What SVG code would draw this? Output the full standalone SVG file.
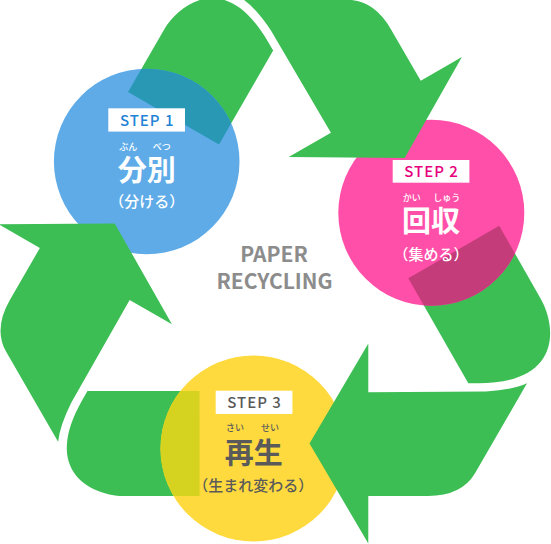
<svg xmlns="http://www.w3.org/2000/svg" xmlns:xlink="http://www.w3.org/1999/xlink" width="551" height="544" viewBox="0 0 551 544">
<style>
.g{fill:#3cbe54}
.t{font-family:"Noto Sans CJK JP",sans-serif;font-weight:700;text-anchor:middle}
.step{font-size:15px;letter-spacing:1px;font-weight:500}
.ruby{font-size:9px;font-weight:500}
.main{font-size:29px}
.sub{font-size:15px;font-weight:500}
.w{fill:#fff}
.box{fill:#fff}
.center{font-family:"Noto Sans CJK JP",sans-serif;font-weight:700;font-size:21px;fill:#8c8c8c;text-anchor:middle}
</style>
<defs>
<path id="head" d="M309.5,443.5 L368.3,343.5 L368.3,392.3 L486,391.5 Q512,390 527,383.3 L475,473.3 Q461.6,496 428,496 L368.3,496 L368.3,543.5 Z"/>
<path id="tailB" d="M408.3,278.3 L499.2,225.8 L541.4,300 C556,327 562,383.3 478,383.3 L468.3,383.3 Z"/>
<path id="tailC" d="M412.25,286.2 L503.15,233.7 L541.4,300 C556,327 562,383.3 478,383.3 L468.3,383.3 Z"/>
<path id="tailA" d="M414.15,289.5 L505.05,237 L541.4,300 C556,327 562,383.3 478,383.3 L468.3,383.3 Z"/>
<clipPath id="c1"><circle cx="146.7" cy="161.5" r="92.8"/></clipPath>
<clipPath id="c2"><circle cx="431.3" cy="212.8" r="93"/></clipPath>
<clipPath id="c3"><circle cx="253.5" cy="448.5" r="93"/></clipPath>
</defs>

<g id="connectors-back" class="g">
<use xlink:href="#tailA" transform="translate(175.35,647.8) rotate(240)"/>
<use xlink:href="#tailB"/>
<use xlink:href="#tailC" transform="translate(653.55,177.1) rotate(120)"/>
</g>

<g id="step1">
<circle cx="146.7" cy="161.5" r="92.8" fill="#5eabe8"/>
<g clip-path="url(#c1)"><use xlink:href="#tailA" transform="translate(175.35,647.8) rotate(240)" fill="#2898b4"/></g>
<rect class="box" x="108.3" y="108.3" width="76.7" height="23.3"/>
<text class="t step" x="147.2" y="125.5" fill="#2283d6">STEP 1</text>
<text class="t ruby w" x="128.3" y="149.5">ぶん</text>
<text class="t ruby w" x="161.7" y="149.5">べつ</text>
<text class="t main w" x="146.7" y="181">分別</text>
<text class="t sub w" x="146.7" y="207">（分ける）</text>
</g>

<g id="step2">
<circle cx="431.3" cy="212.8" r="93" fill="#ff4fa9"/>
<g clip-path="url(#c2)"><use xlink:href="#tailB" fill="#c43c79"/></g>
<rect class="box" x="392.7" y="160" width="76.7" height="22.7"/>
<text class="t step" x="431.5" y="177" fill="#e6007e">STEP 2</text>
<text class="t ruby w" x="411.7" y="201">かい</text>
<text class="t ruby w" x="446.7" y="201">しゅう</text>
<text class="t main w" x="431" y="232">回収</text>
<text class="t sub w" x="431" y="260">（集める）</text>
</g>

<g id="step3">
<circle cx="253.5" cy="448.5" r="93" fill="#ffda3e"/>
<g clip-path="url(#c3)"><use xlink:href="#tailC" transform="translate(653.55,177.1) rotate(120)" fill="#d6d220"/></g>
<rect class="box" x="215.7" y="390.7" width="76.7" height="23.3"/>
<text class="t step" x="254.5" y="407.5" fill="#595959">STEP 3</text>
<text class="t ruby" x="235" y="431" fill="#5a5a5a">さい</text>
<text class="t ruby" x="270" y="431" fill="#5a5a5a">せい</text>
<text class="t main" x="253.7" y="464" fill="#5a5a5a">再生</text>
<text class="t sub" x="253.3" y="491" fill="#5a5a5a">（生まれ変わる）</text>
</g>

<g id="connectors-front" class="g">
<use xlink:href="#head" transform="translate(175.35,647.8) rotate(240)"/>
<use xlink:href="#head"/>
<use xlink:href="#head" transform="translate(653.55,177.1) rotate(120)"/>
</g>

<g id="title">
<text class="center" x="274" y="261.5">PAPER</text>
<text class="center" x="274.5" y="289">RECYCLING</text>
</g>
</svg>
